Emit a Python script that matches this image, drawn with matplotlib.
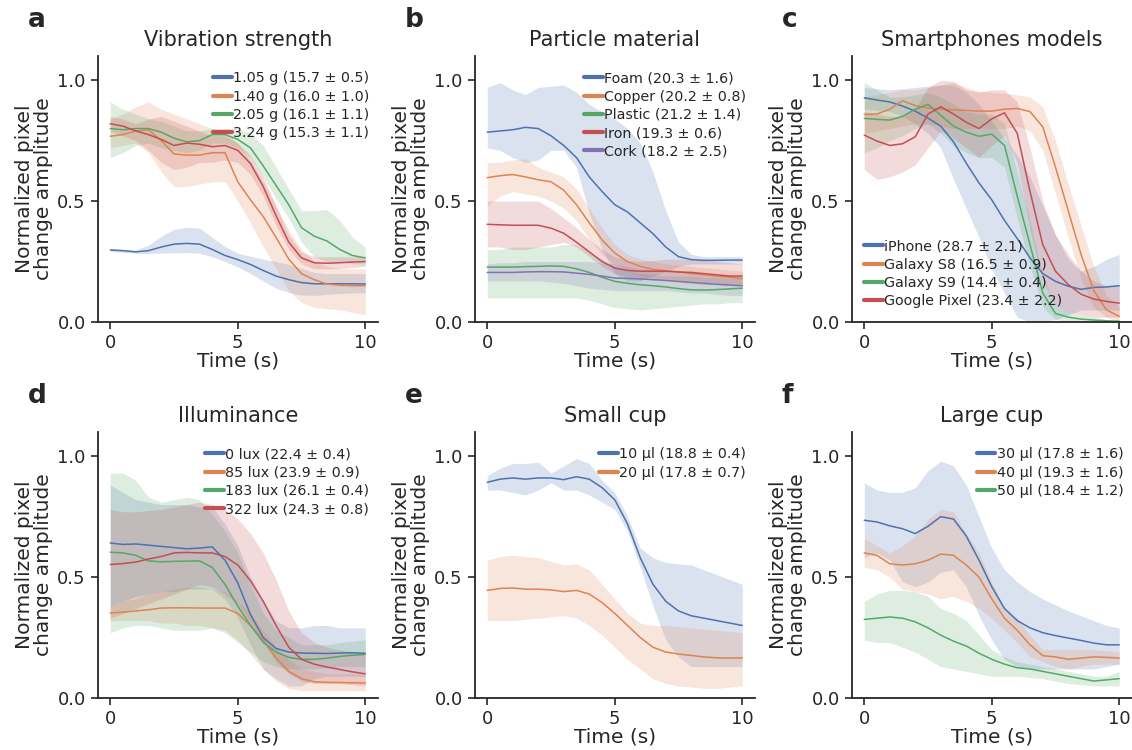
import matplotlib
matplotlib.use('Agg')
import matplotlib.pyplot as plt
import seaborn as sns

TIME = [0, 0.5, 1, 1.5, 2, 2.5, 3, 3.5, 4, 4.5, 5, 5.5, 6, 6.5, 7, 7.5, 8, 8.5, 9, 9.5, 10]

# a - vibration strength
A_LABELS = ['1.05 g (15.7 ± 0.5)', '1.40 g (16.0 ± 1.0)', '2.05 g (16.1 ± 1.1)', '3.24 g (15.3 ± 1.1)']
A_MEAN = [
    [.298, .295, .29, .295, .31, .322, .325, .322, .30, .275, .258, .238, .213, .19, .175, .163, .158, .158, .158, .158, .157],
    [.768, .775, .79, .795, .75, .695, .69, .69, .70, .70, .58, .505, .436, .35, .26, .20, .175, .157, .152, .15, .15],
    [.80, .795, .80, .80, .785, .76, .745, .75, .775, .775, .755, .72, .645, .565, .485, .39, .355, .335, .30, .275, .265],
    [.82, .81, .79, .775, .755, .73, .74, .735, .725, .73, .71, .655, .56, .44, .33, .265, .245, .243, .245, .248, .25],
]
A_LOW = [
    [.292, .288, .284, .283, .285, .286, .287, .284, .270, .250, .228, .200, .170, .140, .122, .112, .110, .114, .118, .120, .120],
    [.72, .73, .74, .70, .62, .56, .56, .57, .58, .58, .50, .41, .31, .22, .13, .08, .06, .055, .05, .04, .03],
    [.68, .70, .73, .74, .72, .71, .70, .71, .74, .74, .72, .68, .60, .51, .43, .33, .27, .25, .25, .24, .24],
    [.79, .77, .75, .71, .66, .63, .64, .66, .66, .67, .66, .61, .52, .40, .30, .24, .22, .22, .22, .225, .23],
]
A_HIGH = [
    [.303, .300, .298, .318, .355, .383, .392, .388, .350, .312, .285, .272, .260, .250, .238, .222, .205, .200, .200, .200, .200],
    [.84, .86, .89, .91, .88, .86, .84, .82, .80, .78, .74, .67, .58, .48, .38, .30, .25, .23, .22, .22, .22],
    [.91, .88, .86, .84, .83, .81, .79, .79, .80, .80, .80, .78, .73, .64, .55, .46, .46, .465, .42, .35, .31],
    [.85, .84, .82, .84, .85, .83, .81, .79, .77, .77, .74, .69, .60, .48, .36, .29, .27, .27, .27, .27, .27],
]

# b - particle material
B_LABELS = ['Foam (20.3 ± 1.6)', 'Copper (20.2 ± 0.8)', 'Plastic (21.2 ± 1.4)', 'Iron (19.3 ± 0.6)', 'Cork (18.2 ± 2.5)']
B_MEAN = [
    [.785, .79, .795, .805, .80, .77, .73, .68, .60, .54, .485, .455, .41, .365, .31, .27, .258, .255, .255, .256, .256],
    [.597, .605, .61, .60, .588, .58, .545, .485, .41, .34, .285, .25, .23, .218, .212, .207, .20, .195, .19, .185, .18],
    [.227, .227, .227, .229, .23, .232, .23, .22, .205, .185, .168, .16, .154, .15, .145, .138, .133, .132, .134, .137, .14],
    [.404, .402, .40, .40, .40, .388, .367, .33, .29, .25, .223, .213, .21, .21, .21, .207, .205, .20, .195, .19, .19],
    [.205, .205, .205, .207, .208, .208, .207, .202, .197, .19, .182, .18, .178, .175, .172, .168, .164, .16, .156, .153, .15],
]
B_LOW = [
    [.72, .71, .68, .66, .67, .71, .71, .64, .45, .30, .20, .17, .17, .19, .21, .23, .24, .24, .24, .24, .24],
    [.48, .52, .54, .53, .52, .50, .47, .42, .34, .28, .24, .21, .19, .185, .18, .175, .17, .165, .16, .155, .15],
    [.10, .10, .10, .10, .10, .10, .10, .10, .09, .075, .06, .055, .05, .055, .06, .065, .07, .075, .075, .08, .08],
    [.31, .31, .30, .30, .31, .32, .33, .31, .27, .23, .20, .185, .18, .175, .17, .165, .16, .155, .155, .15, .15],
    [.17, .17, .17, .17, .17, .165, .16, .15, .14, .135, .13, .13, .13, .13, .13, .125, .12, .12, .115, .11, .11],
]
B_HIGH = [
    [.97, .99, .96, .94, .97, .975, .98, .95, .90, .87, .84, .80, .74, .62, .46, .33, .28, .27, .27, .27, .27],
    [.66, .66, .67, .675, .64, .62, .60, .55, .47, .39, .32, .28, .26, .25, .24, .235, .23, .225, .22, .215, .21],
    [.30, .30, .31, .31, .31, .31, .32, .32, .29, .26, .23, .21, .20, .195, .19, .19, .19, .185, .185, .18, .18],
    [.50, .50, .50, .50, .50, .47, .43, .39, .34, .30, .27, .255, .25, .255, .26, .26, .26, .255, .25, .245, .24],
    [.24, .245, .245, .25, .25, .25, .25, .25, .25, .245, .24, .23, .22, .215, .21, .205, .20, .195, .195, .19, .19],
]

# c - smartphone models
C_LABELS = ['iPhone (28.7 ± 2.1)', 'Galaxy S8 (16.5 ± 0.9)', 'Galaxy S9 (14.4 ± 0.4)', 'Google Pixel (23.4 ± 2.2)']
C_MEAN = [
    [.927, .918, .91, .893, .872, .843, .81, .745, .657, .575, .505, .42, .345, .265, .20, .168, .148, .135, .143, .145, .15],
    [.858, .86, .88, .915, .895, .885, .88, .877, .875, .872, .872, .88, .883, .87, .807, .64, .46, .28, .13, .05, .023],
    [.842, .838, .835, .85, .88, .90, .855, .81, .785, .768, .777, .73, .52, .32, .12, .035, .02, .012, .008, .005, .003],
    [.773, .748, .73, .737, .766, .86, .89, .86, .826, .80, .84, .865, .78, .54, .32, .21, .155, .115, .095, .085, .078],
]
C_LOW = [
    [.88, .875, .87, .85, .82, .78, .72, .59, .47, .35, .22, .12, .02, 0, 0, .01, .03, .05, .05, .05, .05],
    [.78, .79, .80, .81, .82, .82, .81, .80, .80, .80, .80, .80, .81, .79, .71, .53, .35, .18, .06, .02, 0],
    [.70, .72, .75, .77, .80, .82, .78, .73, .70, .68, .68, .64, .43, .23, .06, .01, 0, 0, 0, 0, 0],
    [.63, .59, .60, .62, .65, .72, .79, .76, .72, .68, .73, .77, .66, .38, .17, .07, .04, .03, .02, .02, .02],
]
C_HIGH = [
    [.97, .965, .96, .965, .97, .975, .98, .98, .95, .90, .83, .76, .69, .60, .48, .36, .26, .21, .23, .26, .28],
    [.93, .94, .95, .96, .96, .97, .98, .99, .97, .955, .95, .945, .94, .93, .89, .75, .57, .40, .23, .11, .06],
    [.99, .96, .93, .93, .94, .95, .93, .90, .87, .86, .86, .82, .62, .42, .19, .07, .04, .03, .02, .01, .01],
    [.87, .86, .85, .85, .88, .97, 1.0, .995, .96, .95, .96, .96, .91, .72, .50, .36, .28, .21, .17, .15, .15],
]

# d - illuminance
D_LABELS = ['0 lux (22.4 ± 0.4)', '85 lux (23.9 ± 0.9)', '183 lux (26.1 ± 0.4)', '322 lux (24.3 ± 0.8)']
D_MEAN = [
    [.641, .635, .637, .632, .627, .622, .617, .62, .625, .57, .476, .345, .25, .205, .19, .186, .185, .184, .186, .187, .185],
    [.352, .355, .36, .365, .372, .373, .373, .372, .372, .372, .35, .30, .24, .166, .11, .08, .067, .065, .064, .063, .062],
    [.603, .60, .59, .567, .563, .565, .566, .567, .54, .47, .38, .30, .23, .19, .168, .16, .16, .165, .172, .177, .18],
    [.552, .556, .562, .575, .585, .60, .602, .60, .60, .585, .55, .485, .40, .30, .21, .16, .14, .128, .118, .108, .10],
]
D_LOW = [
    [.38, .40, .42, .43, .44, .44, .45, .45, .45, .41, .33, .22, .12, .08, .05, .05, .08, .09, .09, .09, .09],
    [.32, .32, .32, .32, .31, .31, .30, .30, .29, .28, .24, .18, .12, .07, .04, .03, .03, .03, .03, .03, .03],
    [.27, .29, .30, .30, .29, .28, .28, .28, .29, .27, .23, .19, .15, .13, .12, .12, .12, .125, .13, .13, .13],
    [.33, .35, .37, .39, .41, .43, .45, .47, .46, .43, .39, .31, .23, .15, .10, .07, .06, .06, .06, .055, .05],
]
D_HIGH = [
    [.88, .85, .82, .81, .80, .80, .80, .79, .79, .72, .63, .50, .40, .32, .29, .29, .30, .30, .29, .29, .29],
    [.38, .40, .41, .43, .44, .45, .46, .46, .45, .44, .40, .35, .28, .21, .16, .12, .11, .10, .10, .10, .10],
    [.93, .93, .90, .83, .81, .82, .83, .82, .76, .69, .60, .47, .35, .28, .25, .22, .22, .22, .23, .235, .24],
    [.78, .77, .77, .775, .78, .79, .80, .81, .80, .78, .74, .68, .60, .49, .36, .27, .23, .21, .20, .19, .18],
]

# e - small cup
E_LABELS = ['10 µl (18.8 ± 0.4)', '20 µl (17.8 ± 0.7)']
E_MEAN = [
    [.892, .905, .91, .905, .91, .91, .903, .915, .905, .87, .82, .72, .58, .47, .40, .36, .34, .33, .32, .31, .30],
    [.445, .453, .455, .45, .45, .447, .44, .445, .43, .395, .35, .30, .25, .21, .19, .182, .176, .17, .166, .165, .166],
]
E_LOW = [
    [.86, .86, .85, .84, .86, .89, .86, .86, .84, .81, .78, .69, .54, .38, .24, .17, .13, .13, .13, .13, .13],
    [.32, .32, .32, .325, .33, .335, .34, .33, .30, .26, .21, .16, .12, .08, .06, .05, .045, .04, .04, .045, .05],
]
E_HIGH = [
    [.92, .95, .97, .97, .975, .93, .96, .99, .97, .90, .85, .75, .62, .58, .56, .555, .55, .53, .51, .49, .47],
    [.57, .585, .59, .585, .58, .565, .55, .555, .53, .47, .41, .35, .31, .30, .30, .295, .29, .285, .28, .275, .27],
]

# f - large cup
F_LABELS = ['30 µl (17.8 ± 1.6)', '40 µl (19.3 ± 1.6)', '50 µl (18.4 ± 1.2)']
F_MEAN = [
    [.735, .728, .712, .70, .68, .71, .75, .74, .67, .57, .46, .37, .32, .29, .27, .258, .248, .238, .227, .22, .22],
    [.60, .59, .555, .55, .555, .57, .595, .59, .55, .50, .41, .33, .28, .22, .175, .17, .16, .165, .17, .168, .165],
    [.325, .33, .335, .33, .315, .29, .26, .235, .215, .185, .16, .14, .125, .12, .11, .10, .09, .08, .07, .075, .08],
]
F_LOW = [
    [.58, .60, .57, .48, .46, .48, .52, .53, .46, .34, .24, .16, .13, .12, .12, .12, .12, .12, .12, .13, .14],
    [.54, .53, .50, .45, .44, .43, .41, .42, .40, .37, .33, .28, .23, .17, .15, .13, .12, .13, .14, .14, .14],
    [.24, .23, .23, .21, .19, .16, .13, .12, .11, .10, .09, .09, .09, .085, .08, .07, .06, .055, .05, .05, .05],
]
F_HIGH = [
    [.89, .86, .85, .85, .87, .94, .98, .96, .88, .75, .62, .53, .48, .44, .41, .385, .36, .34, .32, .30, .29],
    [.66, .63, .60, .63, .67, .74, .78, .77, .68, .60, .48, .37, .33, .26, .20, .20, .20, .20, .20, .195, .19],
    [.40, .43, .445, .445, .44, .42, .37, .35, .32, .26, .20, .17, .15, .14, .13, .12, .11, .10, .09, .09, .11],
]

PANELS = [
    ('a', 'Vibration strength', A_LABELS, A_MEAN, A_LOW, A_HIGH, 'upper right'),
    ('b', 'Particle material', B_LABELS, B_MEAN, B_LOW, B_HIGH, 'upper right'),
    ('c', 'Smartphones models', C_LABELS, C_MEAN, C_LOW, C_HIGH, 'lower left'),
    ('d', 'Illuminance', D_LABELS, D_MEAN, D_LOW, D_HIGH, 'upper right'),
    ('e', 'Small cup', E_LABELS, E_MEAN, E_LOW, E_HIGH, 'upper right'),
    ('f', 'Large cup', F_LABELS, F_MEAN, F_LOW, F_HIGH, 'upper right'),
]

sns.set_theme(style='ticks')
plt.rcParams['font.family'] = ['DejaVu Sans']
colors = sns.color_palette('deep')

W, H = 1132, 750
fig = plt.figure(figsize=(W / 100, H / 100), dpi=100)

# axes rectangles in pixels: left, bottom(y of zero), width, height
lefts = [97.5, 474.5, 851.5]
bottoms = [322, 698]
aw, ah = 280.5, 266

for i, (letter, title, labels, means, lows, highs, loc) in enumerate(PANELS):
    col, row = i % 3, i // 3
    x0 = lefts[col]
    y0 = bottoms[row]
    ax = fig.add_axes([x0 / W, (H - y0) / H, aw / W, ah / H])
    for k in range(len(labels)):
        ax.fill_between(TIME, lows[k], highs[k], color=colors[k], alpha=0.2, lw=0)
        ax.plot(TIME, means[k], color=colors[k], lw=1.1, label=labels[k])
    ax.set_xlim(-0.5, 10.5)
    ax.set_ylim(0, 1.1)
    ax.set_xticks([0, 5, 10])
    ax.set_yticks([0, 0.5, 1.0])
    ax.set_yticklabels(['0.0', '0.5', '1.0'])
    ax.tick_params(labelsize=13, length=5, width=1.2)
    for s in ['left', 'bottom']:
        ax.spines[s].set_linewidth(1.3)
    sns.despine(ax=ax)
    ax.set_title(title, fontsize=15, pad=7)
    ax.set_xlabel('Time (s)', fontsize=14.5, labelpad=0)
    ax.set_ylabel('Normalized pixel\nchange amplitude', fontsize=14.5, labelpad=3, linespacing=1.0)
    if loc == 'upper right':
        leg = ax.legend(loc='upper right', bbox_to_anchor=(1.0, 0.975), frameon=False,
                        fontsize=10.3, handlelength=1.3, handletextpad=0.1,
                        labelspacing=0.3, borderaxespad=0.2)
    else:
        leg = ax.legend(loc='lower left', bbox_to_anchor=(0.015, 0.02), frameon=False,
                        fontsize=10.3, handlelength=1.3, handletextpad=0.1,
                        labelspacing=0.3, borderaxespad=0.2)
    for ln in leg.get_lines():
        ln.set_linewidth(3)
    fig.text((x0 - 70) / W, (H - (y0 - 302)) / H, letter, fontsize=19, fontweight='bold',
             va='center', ha='left')

fig.savefig('out.png', dpi=100)
